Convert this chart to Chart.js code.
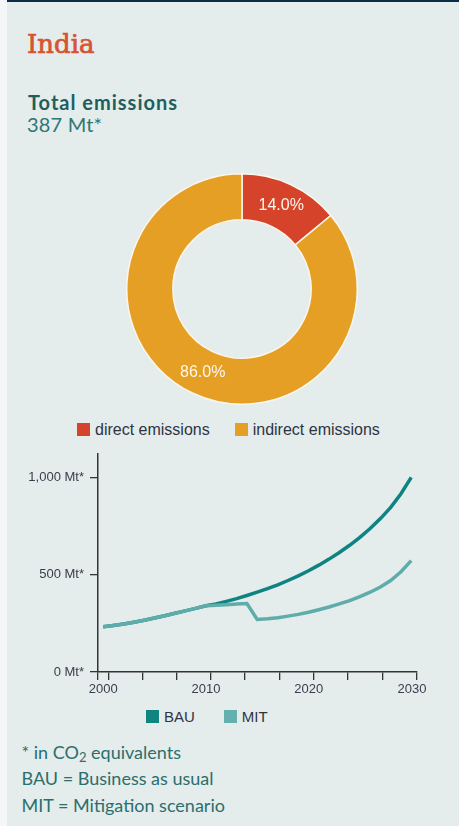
<!DOCTYPE html>
<html>
<head>
<meta charset="utf-8">
<script src="https://cdn.jsdelivr.net/npm/chart.js@4.4.1/dist/chart.umd.min.js"></script>
<style>
  html, body { margin: 0; padding: 0; }
  body { width: 459px; height: 826px; position: relative; overflow: hidden; background: #f4f7f7; font-family: Lato, "Open Sans", sans-serif; }
  .panel { position: absolute; left: 7px; top: 0; width: 452px; height: 826px; background: #e4ecec; border-top: 2px solid #0c2b48; box-sizing: border-box; }
  .abs { position: absolute; white-space: nowrap; }
  #country { left: 27px; top: 29px; font: 26px/30px "DejaVu Serif", serif; color: #d8532f; -webkit-text-stroke: 0.7px #d8532f; }
  #totalTitle { left: 28px; top: 90.3px; font: 700 20px/24px Lato, sans-serif; letter-spacing: 1px; color: #1e5f5d; }
  #totalValue { left: 27px; top: 112px; font: 400 20px/24px Lato, sans-serif; letter-spacing: 0.2px; color: #2f7674; }
  #notes { left: 21.5px; top: 738.8px; font: 400 18px/26.5px Lato, sans-serif; color: #2a6f6d; }
  #notes sub { font-size: 13px; line-height: 0; vertical-align: -3px; }
  .legend { position: absolute; margin: 0; padding: 0; list-style: none; display: flex; align-items: center; height: 16px;
            font-family: "Liberation Sans", Arial, sans-serif; color: #2f3444; white-space: nowrap; }
  .legend li { display: flex; align-items: center; }
  .legend .swatch { display: inline-block; width: 13px; height: 13px; margin-right: 5px; }
  #shareLegend { left: 77px; top: 421.5px; font-size: 16px; }
  #shareLegend li { margin-right: 25px; }
  #trendLegend { left: 146px; top: 708.5px; font-size: 15px; }
  #trendLegend li { margin-right: 29px; }
  #shareBox { position: absolute; left: 126px; top: 173px; width: 232px; height: 232px; }
  #trendBox { position: absolute; left: 0; top: 440px; width: 459px; height: 262px; }
</style>
</head>
<body>
<div class="panel"></div>
<div class="abs" id="country">India</div>
<div class="abs" id="totalTitle">Total emissions</div>
<div class="abs" id="totalValue">387 Mt*</div>

<div id="shareBox"><canvas id="shareChart"></canvas></div>
<ul class="legend" id="shareLegend"></ul>

<div id="trendBox"><canvas id="trendChart"></canvas></div>
<ul class="legend" id="trendLegend"></ul>

<div class="abs" id="notes">
  * in CO<sub>2</sub> equivalents<br>
  BAU = Business as usual<br>
  MIT = Mitigation scenario
</div>

<script>
// emission shares (%)
const shareLabels = ['direct emissions', 'indirect emissions'];
const shareValues = [14.0, 86.0];
const shareColors = ['#d4432a', '#e69f25'];

// emissions path, Mt CO2 eq.
const years = [2000, 2001, 2002, 2003, 2004, 2005, 2006, 2007, 2008, 2009, 2010,
               2011, 2012, 2013, 2014, 2015, 2016, 2017, 2018, 2019, 2020,
               2021, 2022, 2023, 2024, 2025, 2026, 2027, 2028, 2029, 2030];
const bauValues = [232, 239, 247, 256, 266, 277, 289, 302, 314, 327, 340,
                   350, 363, 377, 393, 410, 428, 448, 470, 494, 520,
                   549, 580, 614, 651, 692, 737, 788, 846, 916, 1000];
const mitValues = [232, 239, 247, 256, 266, 277, 289, 302, 314, 327, 340,
                   343, 346, 349, 352, 270, 273, 279, 287, 296, 307,
                   320, 334, 350, 367, 387, 410, 437, 470, 515, 572];

const yTicks = [0, 500, 1000];
const xTickMarks  = [1999.5, 2000.5, 2003.8, 2007.2, 2010.5, 2013.8, 2017.2, 2020.5, 2023.8, 2027.2, 2030.56];
const xTickLabels = ['', '2000', '', '', '2010', '', '', '2020', '', '', '2030'];

const axisFont = { family: '"Liberation Sans", Arial, sans-serif', size: 13 };
const axisInk = '#3a3d4d';
const lineInk = '#343434';

// legend as html list, items come from the chart itself
const htmlLegend = {
  id: 'htmlLegend',
  afterUpdate(chart, args, opts) {
    const list = document.getElementById(opts.containerID);
    list.innerHTML = '';
    const items = chart.options.plugins.legend.labels.generateLabels(chart);
    items.sort((a, b) => (a.datasetIndex ?? a.index) - (b.datasetIndex ?? b.index));
    items.forEach(item => {
      const li = document.createElement('li');
      const sw = document.createElement('span');
      sw.className = 'swatch';
      sw.style.background = item.fillStyle;
      li.appendChild(sw);
      li.appendChild(document.createTextNode(item.text));
      list.appendChild(li);
    });
  }
};

// percentage inside each slice
const sliceLabels = {
  id: 'sliceLabels',
  afterDatasetsDraw(chart) {
    const { ctx } = chart;
    ctx.save();
    ctx.font = '16px "Liberation Sans", Arial, sans-serif';
    ctx.fillStyle = '#fff8ee';
    ctx.textAlign = 'center';
    ctx.textBaseline = 'middle';
    chart.getDatasetMeta(0).data.forEach((arc, i) => {
      const p = arc.getCenterPoint();
      ctx.fillText(shareValues[i].toFixed(1) + '%', p.x, p.y);
    });
    ctx.restore();
  }
};

new Chart(document.getElementById('shareChart'), {
  type: 'doughnut',
  data: {
    labels: shareLabels,
    datasets: [{
      data: shareValues,
      backgroundColor: shareColors,
      borderColor: '#fbf6ee',
      borderWidth: 1.5,
    }]
  },
  options: {
    responsive: true,
    maintainAspectRatio: false,
    animation: false,
    cutout: '60%',
    plugins: {
      legend: { display: false },
      tooltip: { enabled: false },
      htmlLegend: { containerID: 'shareLegend' },
    },
  },
  plugins: [htmlLegend, sliceLabels]
});

new Chart(document.getElementById('trendChart'), {
  type: 'line',
  data: {
    datasets: [
      {
        label: 'BAU',
        data: years.map((x, i) => ({ x, y: bauValues[i] })),
        borderColor: '#0e8381',
        backgroundColor: '#10847f',
        order: 2,
      },
      {
        label: 'MIT',
        data: years.map((x, i) => ({ x, y: mitValues[i] })),
        borderColor: '#5eadab',
        backgroundColor: '#64b0ae',
        order: 1,
      }
    ]
  },
  options: {
    responsive: true,
    maintainAspectRatio: false,
    animation: false,
    layout: { padding: { top: 14, right: 42, bottom: 0, left: 0 } },
    elements: {
      line: { borderWidth: 3.5, tension: 0, fill: false },
      point: { radius: 0, hoverRadius: 0 },
    },
    plugins: {
      legend: { display: false },
      tooltip: { enabled: false },
      htmlLegend: { containerID: 'trendLegend' },
    },
    scales: {
      x: {
        type: 'linear',
        min: 1999.5,
        max: 2030.56,
        afterBuildTicks: (s) => { s.ticks = xTickMarks.map(v => ({ value: v })); },
        afterFit: (s) => { s.height = 30; },
        grid: { drawOnChartArea: false, tickLength: 8, color: lineInk, lineWidth: 1.3 },
        border: { display: true, color: lineInk, width: 1.5 },
        ticks: {
          autoSkip: false,
          maxRotation: 0,
          labelOffset: -5,
          padding: 2,
          font: axisFont,
          color: axisInk,
          callback: (v, i) => xTickLabels[i],
        },
      },
      y: {
        min: 0,
        max: 1120,
        afterBuildTicks: (s) => { s.ticks = yTicks.map(v => ({ value: v })); },
        afterFit: (s) => { s.width = 98; },
        grid: { drawOnChartArea: false, tickLength: 8, color: lineInk, lineWidth: 1.3 },
        border: { display: true, color: lineInk, width: 1.5 },
        ticks: {
          padding: 6,
          font: axisFont,
          color: axisInk,
          callback: (v) => v.toLocaleString('en-US') + ' Mt*',
        },
      },
    },
  },
  plugins: [htmlLegend]
});
</script>
</body>
</html>
